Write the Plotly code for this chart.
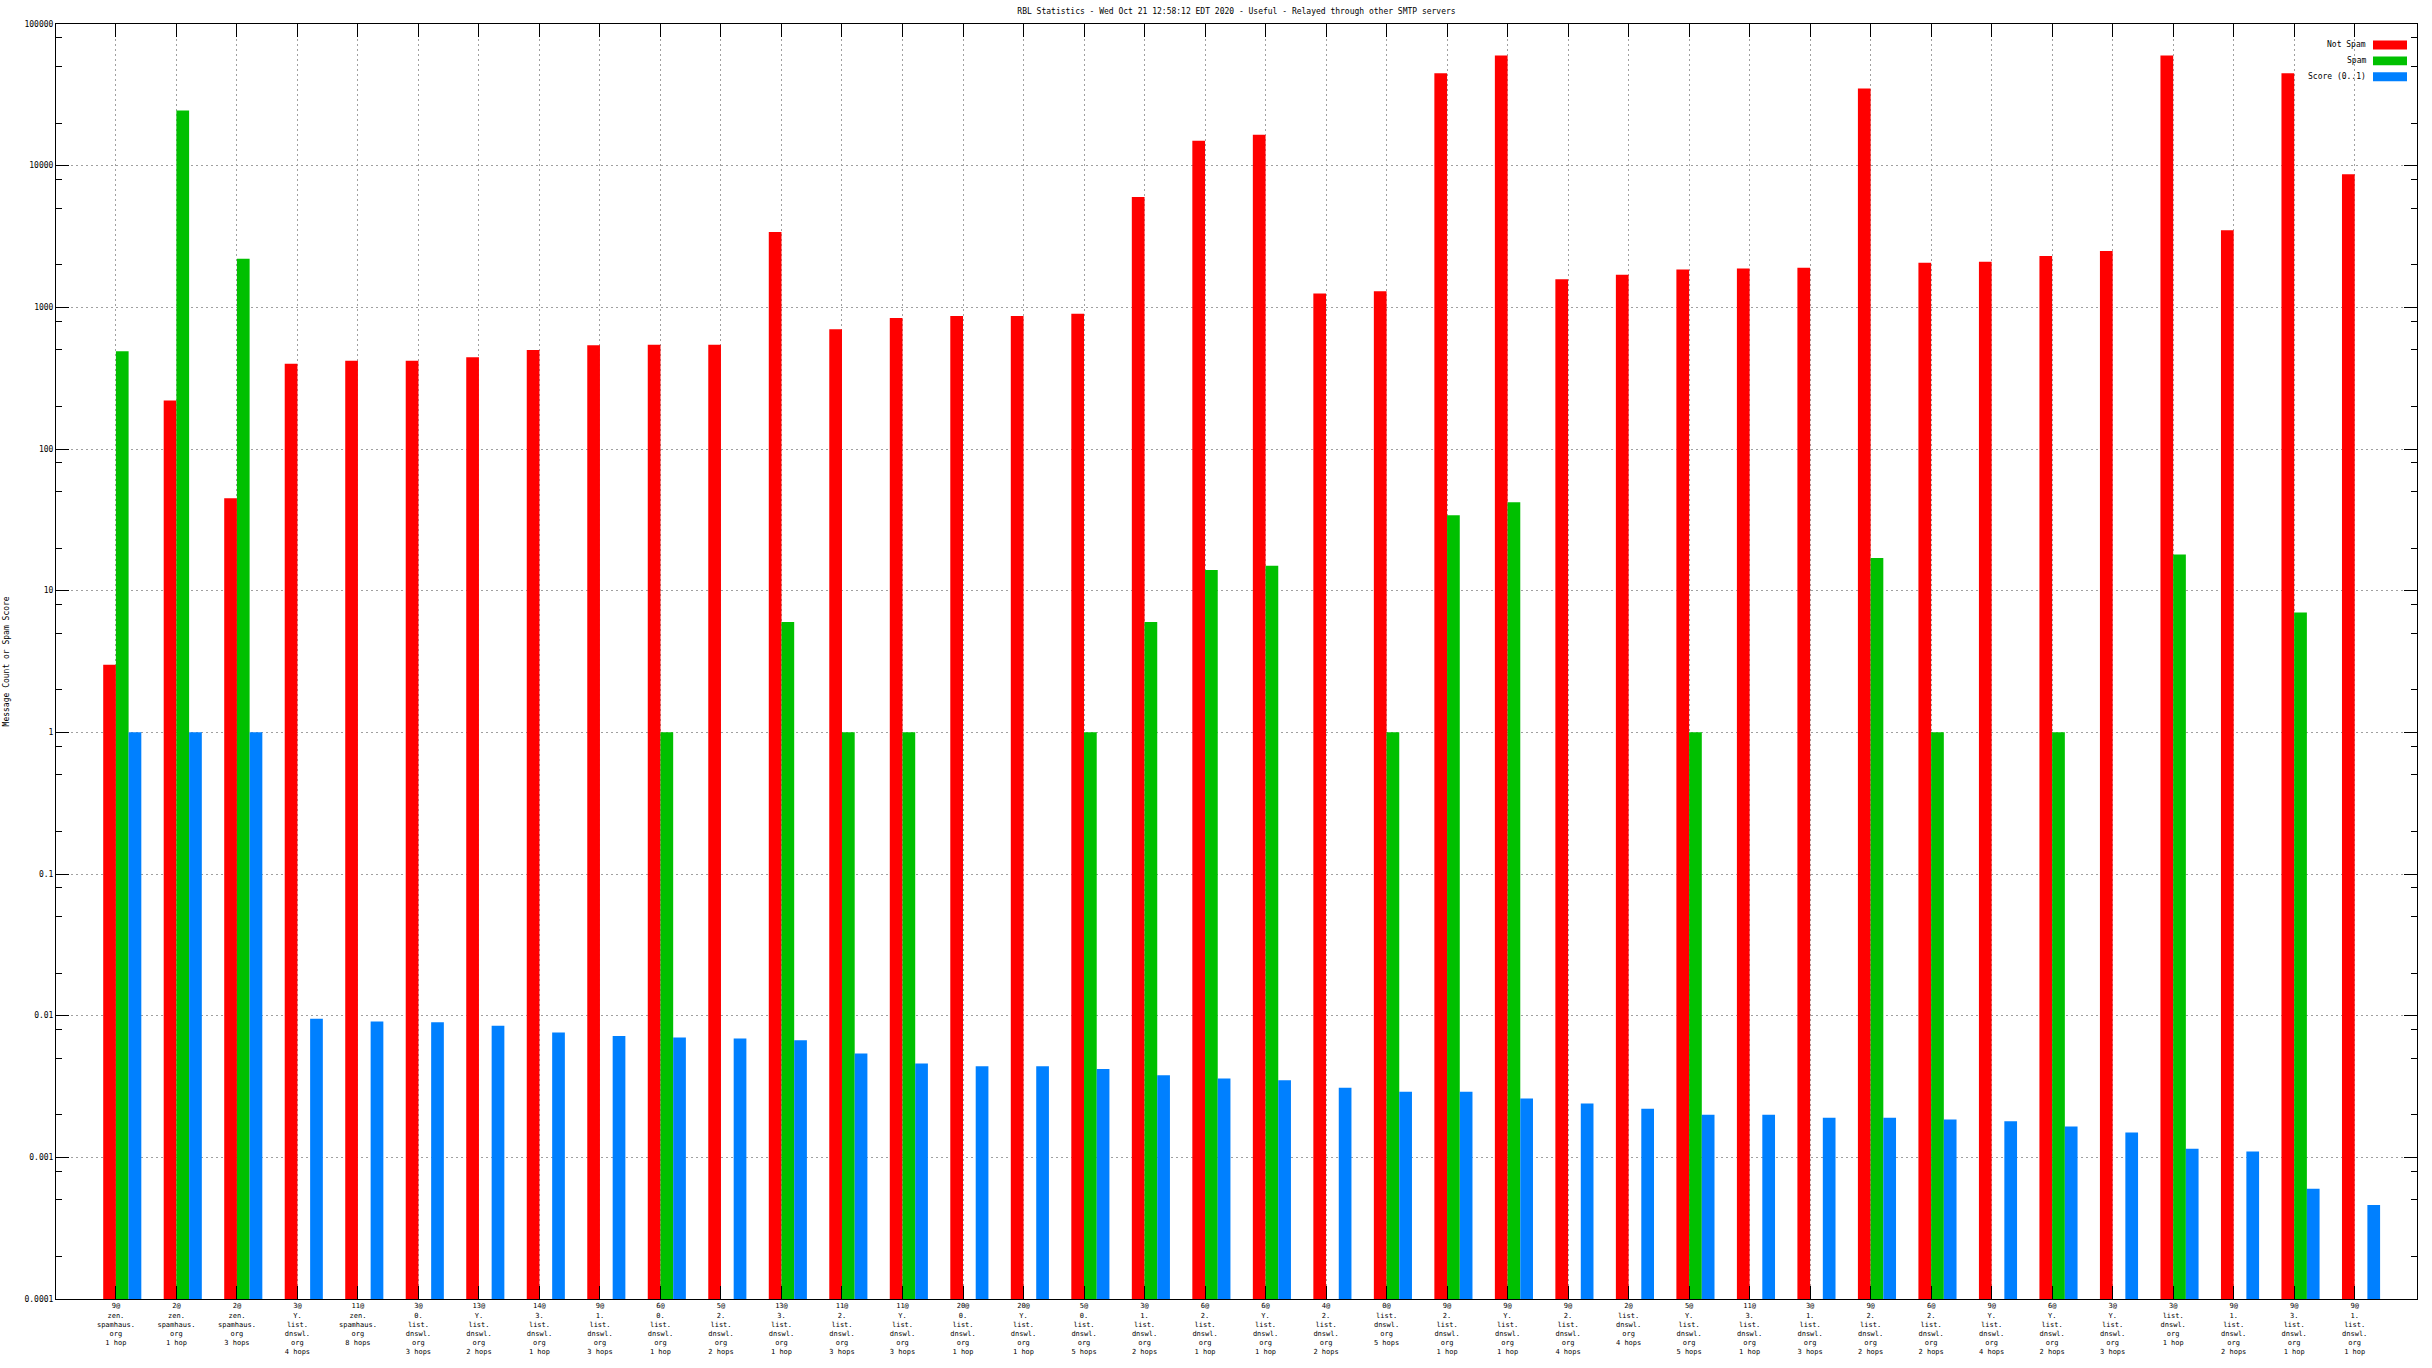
import plotly.graph_objects as go

# ---------------- data ----------------
counts = [9, 2, 2, 3, 11, 3, 13, 14, 9, 6, 5, 13, 11, 11, 20, 20, 5, 3, 6, 6,
          4, 0, 9, 9, 9, 2, 5, 11, 3, 9, 6, 9, 6, 3, 3, 9, 9, 9]
zones = ["zen.spamhaus.org", "zen.spamhaus.org", "zen.spamhaus.org", "Y.list.dnswl.org",
         "zen.spamhaus.org", "0.list.dnswl.org", "Y.list.dnswl.org", "3.list.dnswl.org",
         "1.list.dnswl.org", "0.list.dnswl.org", "2.list.dnswl.org", "3.list.dnswl.org",
         "2.list.dnswl.org", "Y.list.dnswl.org", "0.list.dnswl.org", "Y.list.dnswl.org",
         "0.list.dnswl.org", "1.list.dnswl.org", "2.list.dnswl.org", "Y.list.dnswl.org",
         "2.list.dnswl.org", "list.dnswl.org", "2.list.dnswl.org", "Y.list.dnswl.org",
         "2.list.dnswl.org", "list.dnswl.org", "Y.list.dnswl.org", "3.list.dnswl.org",
         "1.list.dnswl.org", "2.list.dnswl.org", "2.list.dnswl.org", "Y.list.dnswl.org",
         "Y.list.dnswl.org", "Y.list.dnswl.org", "list.dnswl.org", "1.list.dnswl.org",
         "3.list.dnswl.org", "1.list.dnswl.org"]
hops = [1, 1, 3, 4, 8, 3, 2, 1, 3, 1, 2, 1, 3, 3, 1, 1, 5, 2, 1, 1,
        2, 5, 1, 1, 4, 4, 5, 1, 3, 2, 2, 4, 2, 3, 1, 2, 1, 1]

not_spam = [3, 220, 45, 400, 420, 420, 445, 500, 540, 545, 545, 3400, 700, 840, 870, 870,
            900, 6000, 15000, 16500, 1250, 1300, 45000, 60000, 1580, 1700, 1850, 1880,
            1900, 35000, 2060, 2100, 2300, 2500, 60000, 3500, 45000, 8700]
spam = [490, 24500, 2200, None, None, None, None, None, None, 1, None, 6, 1, 1, None, None,
        1, 6, 14, 15, None, 1, 34, 42, None, None, 1, None, None, 17, 1, None, 1, None,
        18, None, 7, None]
score = [1, 1, 1, 0.0095, 0.0091, 0.009, 0.0085, 0.0076, 0.0072, 0.0070, 0.0069, 0.0067,
         0.0054, 0.0046, 0.0044, 0.0044, 0.0042, 0.0038, 0.0036, 0.0035, 0.0031, 0.0029,
         0.0029, 0.0026, 0.0024, 0.0022, 0.0020, 0.0020, 0.0019, 0.0019, 0.00185, 0.0018,
         0.00165, 0.0015, 0.00115, 0.0011, 0.0006, 0.00046]

series_names = ["Not Spam", "Spam", "Score (0..1)"]
series_colors = ["#ff0000", "#00c000", "#0080ff"]

y_tick_vals = [1e-4, 1e-3, 1e-2, 1e-1, 1, 10, 100, 1000, 10000, 100000]
y_tick_text = ["0.0001", "0.001", "0.01", "0.1", "1", "10", "100", "1000", "10000", "100000"]

title_text = "RBL Statistics - Wed Oct 21 12:58:12 EDT 2020 - Useful - Relayed through other SMTP servers"
y_title = "Message Count or Spam Score"

# ---------------- build ----------------
def make_label(c, z, h):
    parts = z.split(".")
    lines = [f"{c}@"] + [p + "." for p in parts[:-1]] + [parts[-1]]
    lines.append(f"{h} hop" if h == 1 else f"{h} hops")
    return "<br>".join(lines)

labels = [make_label(c, z, h) for c, z, h in zip(counts, zones, hops)]
xs = list(range(len(labels)))

W = 0.21
FONT = "DejaVu Sans Mono"

fig = go.Figure()
for vals, name, color, off in zip([not_spam, spam, score], series_names, series_colors, [-W, 0, W]):
    fig.add_trace(go.Bar(x=xs, y=vals, name=name, width=W, offset=off,
                         marker=dict(color=color, line=dict(width=0)), showlegend=False))

minor_vals = []
for e in range(-4, 5):
    for m in (2, 5, 8):
        minor_vals.append(m * 10 ** e)

fig.update_layout(
    width=2432, height=1368,
    margin=dict(l=56, r=15, t=24, b=65),
    paper_bgcolor="white", plot_bgcolor="white",
    barmode="overlay",
    font=dict(family=FONT, size=8, color="black"),
    title=dict(text=title_text, x=0.5, xref="paper", xanchor="center",
               y=1 - 11 / 1368, yref="container", yanchor="middle",
               font=dict(family=FONT, size=8, color="black")),
    xaxis=dict(type="linear", range=[-0.99, 38.03],
               tickmode="array", tickvals=xs, ticktext=labels,
               tickfont=dict(family=FONT, size=7, color="black"),
               ticks="inside", ticklen=13, tickwidth=1, tickcolor="black",
               showline=True, linecolor="black", linewidth=1, mirror="allticks",
               showgrid=True, gridcolor="#a0a0a0", griddash="2px,3px", gridwidth=1,
               zeroline=False, tickangle=0),
    yaxis=dict(type="log", range=[-4, 5],
               tickmode="array", tickvals=y_tick_vals, ticktext=y_tick_text,
               tickfont=dict(family=FONT, size=8, color="black"),
               ticks="inside", ticklen=13, tickwidth=1, tickcolor="black",
               showline=True, linecolor="black", linewidth=1, mirror="allticks",
               showgrid=True, gridcolor="#a0a0a0", griddash="2px,3px", gridwidth=1,
               minor=dict(tickmode="array", tickvals=minor_vals, ticks="inside",
                          ticklen=6, tickwidth=1, tickcolor="black", showgrid=False),
               zeroline=False),
)

# y-axis title
fig.add_annotation(text=y_title, xref="paper", yref="paper", x=-0.0208, y=0.5,
                   xanchor="center", yanchor="middle", textangle=-90, showarrow=False,
                   font=dict(family=FONT, size=8, color="black"))

# legend (text on the left, swatch on the right, gnuplot style)
pw, ph = 2361.0, 1279.0
leg_y_px = [45, 61, 77]
for name, color, ypx in zip(series_names, series_colors, leg_y_px):
    yp = 1 - (ypx - 24) / ph
    fig.add_annotation(text=name, xref="paper", yref="paper",
                       x=(2368 - 56) / pw, y=yp, xanchor="right", yanchor="middle",
                       showarrow=False, font=dict(family=FONT, size=8, color="black"))
    fig.add_shape(type="rect", xref="paper", yref="paper",
                  x0=(2373 - 56) / pw, x1=(2407 - 56) / pw,
                  y0=yp - 4.5 / ph, y1=yp + 4.5 / ph,
                  fillcolor=color, line=dict(width=0))

fig.write_html("out.html", config={"displayModeBar": False},
               post_script="document.body.style.margin='0';document.body.style.overflow='hidden';")
